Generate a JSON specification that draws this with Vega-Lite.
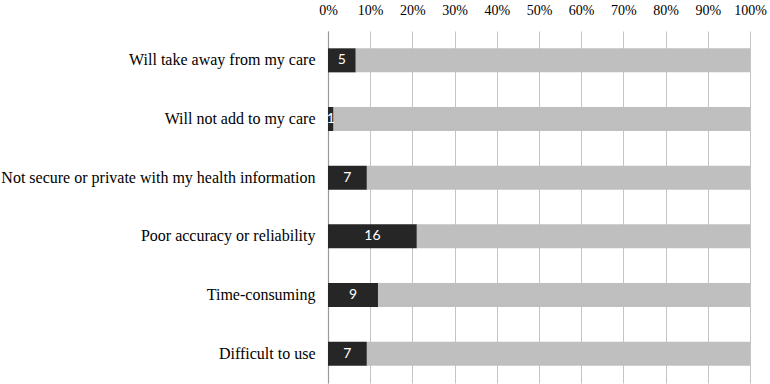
{
  "$schema": "https://vega.github.io/schema/vega-lite/v6.json",
  "autosize": {"type": "none"},
  "padding": {"left": 328, "top": 31, "right": 20, "bottom": 1},
  "width": 422,
  "height": 352,
  "background": "white",
  "config": {
    "view": {"stroke": null},
    "font": "Liberation Serif"
  },
  "data": {
    "values": [
      {"reason": "Will take away from my care", "response": "Concern", "n": 5, "order": 0},
      {"reason": "Will take away from my care", "response": "Other", "n": 71, "order": 1},
      {"reason": "Will not add to my care", "response": "Concern", "n": 1, "order": 0},
      {"reason": "Will not add to my care", "response": "Other", "n": 75, "order": 1},
      {"reason": "Not secure or private with my health information", "response": "Concern", "n": 7, "order": 0},
      {"reason": "Not secure or private with my health information", "response": "Other", "n": 69, "order": 1},
      {"reason": "Poor accuracy or reliability", "response": "Concern", "n": 16, "order": 0},
      {"reason": "Poor accuracy or reliability", "response": "Other", "n": 60, "order": 1},
      {"reason": "Time-consuming", "response": "Concern", "n": 9, "order": 0},
      {"reason": "Time-consuming", "response": "Other", "n": 67, "order": 1},
      {"reason": "Difficult to use", "response": "Concern", "n": 7, "order": 0},
      {"reason": "Difficult to use", "response": "Other", "n": 69, "order": 1}
    ]
  },
  "transform": [
    {"stack": "n", "groupby": ["reason"], "sort": [{"field": "order"}], "offset": "normalize", "as": ["x0", "x1"]},
    {"calculate": "(datum.x0 + datum.x1) / 2", "as": "xmid"}
  ],
  "encoding": {
    "y": {
      "field": "reason",
      "type": "nominal",
      "sort": [
        "Will take away from my care",
        "Will not add to my care",
        "Not secure or private with my health information",
        "Poor accuracy or reliability",
        "Time-consuming",
        "Difficult to use"
      ],
      "scale": {"paddingInner": 0.59, "paddingOuter": 0.295},
      "axis": {
        "title": null,
        "ticks": false,
        "domain": true,
        "domainColor": "#9a9a9a",
        "domainWidth": 1.2,
        "labelFont": "Liberation Serif",
        "labelFontSize": 16,
        "labelColor": "#000000",
        "labelPadding": 13,
        "labelLimit": 400
      }
    }
  },
  "layer": [
    {
      "mark": {"type": "bar"},
      "encoding": {
        "x": {
          "field": "x0",
          "type": "quantitative",
          "scale": {"domain": [0, 1], "nice": false},
          "axis": {
            "orient": "top",
            "title": null,
            "format": ".0%",
            "values": [0, 0.1, 0.2, 0.3, 0.4, 0.5, 0.6, 0.7, 0.8, 0.9, 1],
            "labelOverlap": false,
            "labelFlush": false,
            "ticks": false,
            "domain": false,
            "grid": true,
            "gridColor": "#c4c4c4",
            "gridWidth": 1,
            "labelFont": "Liberation Serif",
            "labelFontSize": 14,
            "labelColor": "#000000",
            "labelPadding": 14
          }
        },
        "x2": {"field": "x1"},
        "color": {
          "field": "response",
          "type": "nominal",
          "scale": {"domain": ["Concern", "Other"], "range": ["#262626", "#bfbfbf"]},
          "legend": null
        }
      }
    },
    {
      "transform": [{"filter": "datum.response == 'Concern'"}],
      "mark": {"type": "text", "color": "white", "font": "Lato", "fontSize": 14, "align": "center", "baseline": "middle"},
      "encoding": {
        "x": {"field": "xmid", "type": "quantitative"},
        "text": {"field": "n", "type": "quantitative"}
      }
    }
  ]
}
